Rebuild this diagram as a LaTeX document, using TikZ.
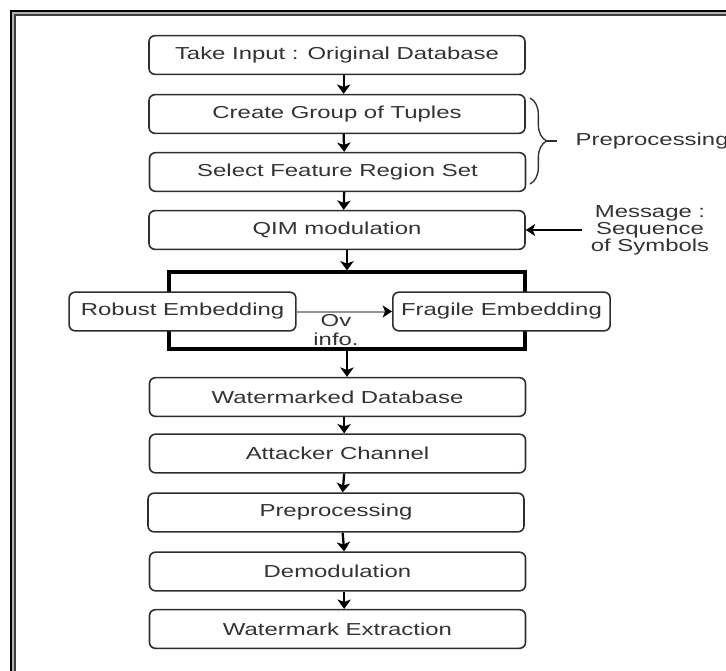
\documentclass[tikz,border=0pt]{standalone}
\usepackage{fontspec}
\setmainfont{Liberation Sans}[FakeStretch=1.38]
\usetikzlibrary{arrows.meta, fit, decorations.pathreplacing}

\definecolor{boxline}{HTML}{2E2E2E}
\definecolor{boxtext}{HTML}{333333}

\begin{document}
\begin{tikzpicture}[x = 0.75pt, y = -0.75pt,
    every node/.style = {font = \fontsize{13}{12.75}\selectfont, text = boxtext},
    box/.style = {draw = boxline, line width = 1.2pt, rounded corners = 4.5pt, fill = white,
        minimum width = 282pt, minimum height = 29pt, inner sep = 0pt},
    link/.style = {-{Stealth[length = 7pt, width = 10pt, inset = 1.8pt]}, line width = 1.7pt},
    thin link/.style = {-{Stealth[length = 7pt, width = 9pt, inset = 1.8pt]}, line width = 1pt},
    side link/.style = {-{Stealth[length = 7pt, width = 9pt, inset = 1.8pt, color = black]},
        line width = 1.5pt, gray!85}]

        \useasboundingbox (0, 0) rectangle (726, 671);

        % Page frame
        \draw [gray!60, line width = 1.5pt] (13, 13) rectangle (760, 700);
        \draw [black, line width = 1.5pt] (11, 11) rectangle (760, 700);
        \draw [black!75, line width = 1.5pt] (15, 15) rectangle (760, 700);

        % Embedding group
        \coordinate (embedNW) at (169, 272);
        \coordinate (embedSE) at (525, 349);
        \node (embed) [fit = (embedNW) (embedSE), inner sep = 0pt, draw = black, line width = 2.3pt] {};

        % Steps
        \node (input) [box] at (337, 55) {Take Input : Original Database};
        \node (tuples) [box] at (337, 114) {Create Group of Tuples};
        \node (region) [box] at (337.5, 172) {Select Feature Region Set};
        \node (qim) [box] at (337, 230) {QIM modulation};

        \node (robust) [box, minimum width = 170pt] at (182.5, 311.5) {Robust Embedding};
        \node (fragile) [box, minimum width = 163pt] at (501.5, 311.5) {Fragile Embedding};

        \node (wmdb) [box] at (337.5, 397) {Watermarked Database};
        \node (attack) [box] at (337.5, 453.5) {Attacker Channel};
        \node (prep) [box] at (336, 512.5) {Preprocessing};
        \node (demod) [box] at (337.5, 571.5) {Demodulation};
        \node (extract) [box] at (337.5, 629) {Watermark Extraction};

        %% Arrows between steps
        \draw [link] ([xshift = 5pt] input.south) -- ([xshift = 5pt] tuples.north);
        \draw [link] ([xshift = 5pt] tuples.south) -- ([xshift = 5pt] region.north);
        \draw [link] ([xshift = 5pt] region.south) -- ([xshift = 5pt] qim.north);
        \draw [link] (qim.south -| embed.north) -- (embed.north);
        \draw [link] (embed.south) -- (embed.south |- wmdb.north);
        \draw [link] ([xshift = 5pt] wmdb.south) -- ([xshift = 5pt] attack.north);
        \draw [link] ([xshift = 5pt] attack.south) -- ([xshift = 5pt] prep.north);
        \draw [link] ([xshift = 5pt] prep.south) -- ([xshift = 5pt] demod.north);
        \draw [link] ([xshift = 5pt] demod.south) -- ([xshift = 5pt] extract.north);

        %% Overflow info
        \draw [side link] (robust.east) -- (fragile.west);
        \node (ovinfo) [align = center, font = \fontsize{13}{14.25}\selectfont] at (336, 330) {Ov\\info.};

        % Preprocessing brace
        \draw [decorate, decoration = {brace, amplitude = 12.5pt}, boxline, line width = 1pt] (530, 98) -- (530, 184);
        \coordinate (bracetip) at (547, 141);
        \coordinate (braceend) at (557, 141);
        \draw [boxline, line width = 1pt] (bracetip) -- (braceend);
        \node (prepnote) [anchor = west] at (571, 141) {Preprocessing};

        % Message input
        \node (msg) [align = center] at (650, 230) {Message :\\Sequence\\of Symbols};
        \coordinate (msgin) at (582, 230);
        \draw [thin link] (msgin) -- (qim.east);

    \end{tikzpicture}
\end{document}
